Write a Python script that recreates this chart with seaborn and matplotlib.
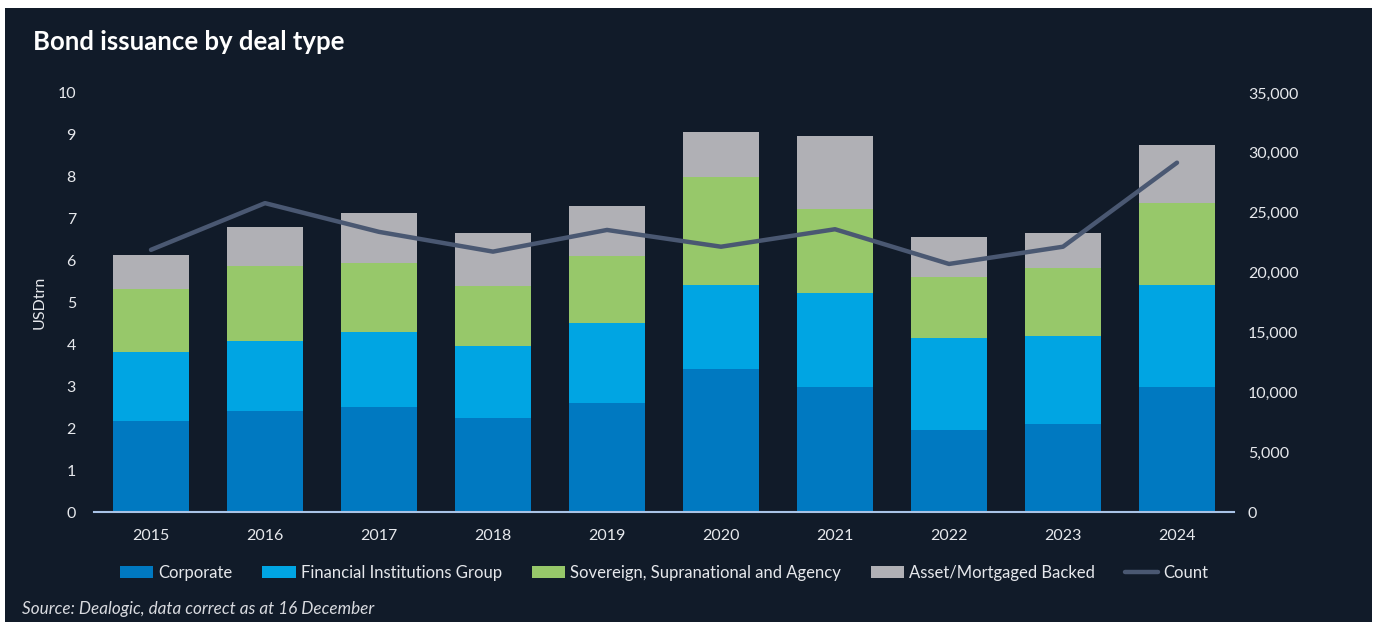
import numpy as np
import pandas as pd
import matplotlib
matplotlib.use("Agg")
import matplotlib.pyplot as plt
import seaborn as sns
from matplotlib.patches import Patch, Rectangle
from matplotlib.lines import Line2D
from matplotlib.ticker import FuncFormatter

years = ["2015", "2016", "2017", "2018", "2019", "2020", "2021", "2022", "2023", "2024"]
corporate = [2.18, 2.41, 2.51, 2.24, 2.61, 3.42, 2.99, 1.96, 2.11, 2.99]
fig_group = [1.64, 1.67, 1.79, 1.71, 1.89, 2.00, 2.24, 2.19, 2.10, 2.43]
ssa = [1.50, 1.79, 1.64, 1.44, 1.62, 2.57, 2.00, 1.47, 1.61, 1.96]
abs_mbs = [0.82, 0.93, 1.19, 1.27, 1.18, 1.09, 1.74, 0.95, 0.83, 1.38]
count = [21900, 25800, 23400, 21750, 23560, 22160, 23620, 20720, 22160, 29180]

series_names = ["Corporate", "Financial Institutions Group",
                "Sovereign, Supranational and Agency", "Asset/Mortgaged Backed"]
colors = ["#0079C1", "#00A5E3", "#97C86A", "#B0B0B5"]
line_color = "#4A5872"
bg = "#111B29"
txt = "#E6E8EC"

sns.set_style("white")
plt.rcParams["font.family"] = ["Lato", "DejaVu Sans"]

fig = plt.figure(figsize=(13.78, 6.22), dpi=100)
fig.patch.set_facecolor("white")
fig.add_artist(Rectangle((5 / 1378, 0), (1372 - 5) / 1378, (622 - 8) / 622,
                         transform=fig.transFigure, facecolor=bg, edgecolor="none", zorder=-10))

ax = fig.add_axes([94 / 1378, 110 / 622, 1140 / 1378, 419 / 622])
ax.set_facecolor(bg)
ax.patch.set_alpha(0)

df = pd.DataFrame({"year": years, "c": corporate, "f": fig_group, "s": ssa, "a": abs_mbs})
layers = [df["c"], df["c"] + df["f"], df["c"] + df["f"] + df["s"], df["c"] + df["f"] + df["s"] + df["a"]]
for i in range(3, -1, -1):
    sns.barplot(x=df["year"], y=layers[i], color=colors[i], saturation=1, width=0.667,
                ax=ax, order=years, edgecolor="none", linewidth=0)

ax.set_ylim(0, 10)
ax.set_xlim(-0.5, 9.5)
ax.set_yticks(range(0, 11))
ax.set_ylabel("USDtrn", color=txt, fontsize=11.5, labelpad=8)
ax.set_xlabel("")
ax.tick_params(axis="y", length=0, pad=13, labelcolor=txt, labelsize=11.5)
ax.tick_params(axis="x", length=0, pad=12, labelcolor=txt, labelsize=11.5)
for s in ["top", "left", "right"]:
    ax.spines[s].set_visible(False)
ax.spines["bottom"].set_color("#A9C3E6")
ax.spines["bottom"].set_linewidth(1.5)

ax2 = ax.twinx()
sns.lineplot(x=np.arange(len(years)), y=count, color=line_color, linewidth=3.2,
             ax=ax2, solid_capstyle="round", solid_joinstyle="round")
ax2.set_ylim(0, 35000)
ax2.set_yticks(range(0, 35001, 5000))
ax2.yaxis.set_major_formatter(FuncFormatter(lambda v, p: f"{int(v):,}"))
ax2.tick_params(axis="y", length=0, pad=10, labelcolor=txt, labelsize=11.5)
ax2.set_ylabel("")
for s in ["top", "left", "right", "bottom"]:
    ax2.spines[s].set_visible(False)

handles = [Patch(facecolor=c, edgecolor="none") for c in colors]
handles.append(Line2D([0], [0], color=line_color, linewidth=3.2, solid_capstyle="round"))
labels = series_names + ["Count"]
fig.legend(handles, labels, loc="center", bbox_to_anchor=(664 / 1378, 1 - 573 / 622),
           ncol=5, frameon=False, fontsize=12, labelcolor=txt, handlelength=2.0,
           handleheight=0.7, handletextpad=0.3, columnspacing=1.8)

fig.text(33 / 1378, 1 - 42 / 622, "Bond issuance by deal type", color="white",
         fontsize=18.5, fontweight="bold", ha="left", va="center")
fig.text(22 / 1378, 1 - 609 / 622, "Source: Dealogic, data correct as at 16 December",
         color="#D8DADF", fontsize=12.3, style="italic", ha="left", va="center")

fig.savefig("out.png", dpi=100, facecolor=fig.get_facecolor())
